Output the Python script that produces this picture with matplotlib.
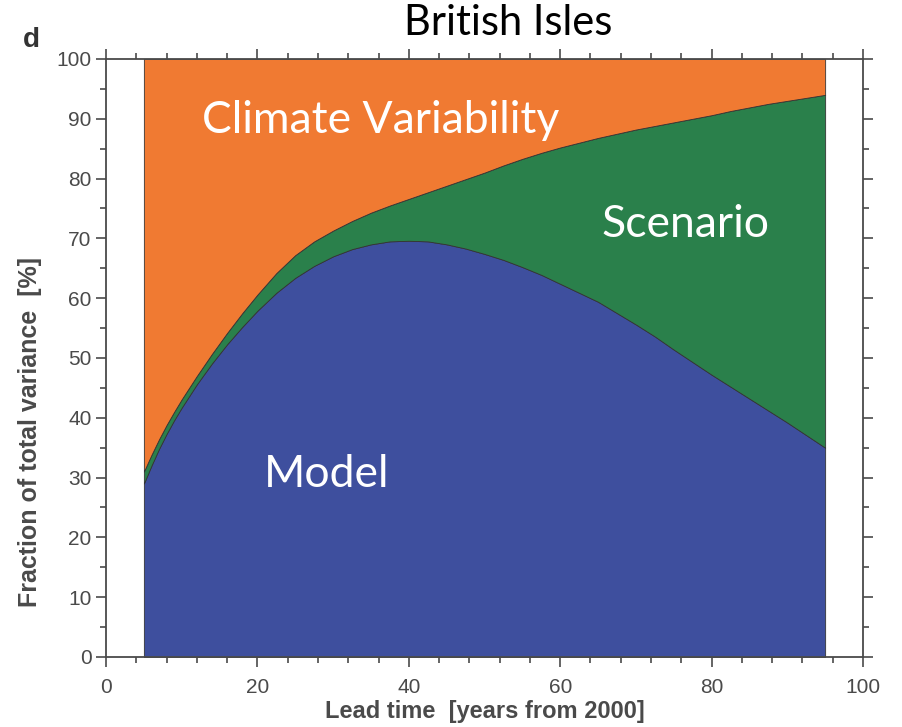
import numpy as np
import matplotlib
matplotlib.use('Agg')
from matplotlib import pyplot as plt
from matplotlib.ticker import MultipleLocator

# lead time (years from 2000)
lead = [5, 6, 7, 8, 9, 10, 12, 14, 16, 18, 20, 22.5, 25, 27.5, 30, 32.5, 35, 37.5,
        40, 42.5, 45, 47.5, 50, 52.5, 55, 57.5, 60, 62.5, 65, 67.5, 70, 72.5, 75,
        77.5, 80, 82.5, 85, 87.5, 90, 92.5, 95]
# upper edge of the model share (%)
model = [29.0, 32.0, 34.8, 37.3, 39.6, 41.7, 45.6, 49.1, 52.3, 55.2, 57.9, 60.9,
         63.4, 65.4, 67.0, 68.2, 69.0, 69.5, 69.6, 69.5, 69.0, 68.3, 67.4, 66.4,
         65.2, 63.9, 62.4, 60.9, 59.4, 57.5, 55.6, 53.6, 51.4, 49.3, 47.2, 45.2,
         43.2, 41.2, 39.2, 37.1, 35.0]
# upper edge of model + scenario (%)
model_scen = [31.0, 33.8, 36.4, 38.8, 41.0, 43.1, 47.0, 50.7, 54.2, 57.5, 60.6,
              64.2, 67.2, 69.5, 71.3, 72.9, 74.3, 75.5, 76.6, 77.7, 78.8, 79.9,
              81.0, 82.2, 83.3, 84.3, 85.2, 86.0, 86.8, 87.5, 88.2, 88.8, 89.4,
              90.0, 90.6, 91.3, 91.9, 92.5, 93.0, 93.5, 94.0]

model = np.array(model)
scenario = np.array(model_scen) - model
climate = 100 - np.array(model_scen)

blue = '#3E4F9E'
green = '#2A804B'
orange = '#F07A32'
grey = '#4a4a4a'

fig = plt.figure(figsize=(9.03, 7.27), dpi=100)
ax = fig.add_axes([0.1174, 0.0963, 0.8383, 0.8226])

polys = ax.stackplot(lead, model, scenario, climate,
                     colors=[blue, green, orange], edgecolor='#333333', linewidth=0.6)

ax.set_xlim(0, 100)
ax.set_ylim(0, 100)
ax.xaxis.set_major_locator(MultipleLocator(20))
ax.xaxis.set_minor_locator(MultipleLocator(4))
ax.yaxis.set_major_locator(MultipleLocator(10))
ax.yaxis.set_minor_locator(MultipleLocator(5))
ax.tick_params(which='both', direction='out', top=True, right=True, color=grey,
               labelcolor=grey, width=1.2)
ax.tick_params(which='major', length=7, labelsize=15)
ax.tick_params(axis='x', which='major', pad=8)
ax.tick_params(which='minor', length=4)
ax.tick_params(top=True, right=True, labeltop=False, labelright=False)
for lab in ax.get_xticklabels() + ax.get_yticklabels():
    lab.set_family('Liberation Sans')
for s in ax.spines.values():
    s.set_color(grey)
    s.set_linewidth(1.3)

ax.set_xlabel('Lead time  [years from 2000]', fontsize=17, color=grey,
              family='Liberation Sans', fontweight='bold', labelpad=2)
fig.text(30 / 903, 1 - 432 / 727, 'Fraction of total variance  [%]', rotation=90,
         fontsize=18, color=grey, family='Liberation Sans', fontweight='bold',
         ha='center', va='center')

fig.text(508 / 903, 1 - 23 / 727, 'British Isles', fontsize=30, family='Lato',
         ha='center', va='center', color='black')
fig.text(31 / 903, 1 - 47 / 727, 'd', fontsize=20, family='Liberation Sans',
         fontweight='bold', ha='center', va='baseline', color='#333333')

ax.text(36.3, 87.6, 'Climate Variability', fontsize=32, family='Lato', color='white',
        ha='center', va='baseline')
ax.text(76.6, 70.2, 'Scenario', fontsize=32, family='Lato', color='white',
        ha='center', va='baseline')
ax.text(29.2, 28.4, 'Model', fontsize=32, family='Lato', color='white',
        ha='center', va='baseline')

plt.savefig('out.png', dpi=100)
